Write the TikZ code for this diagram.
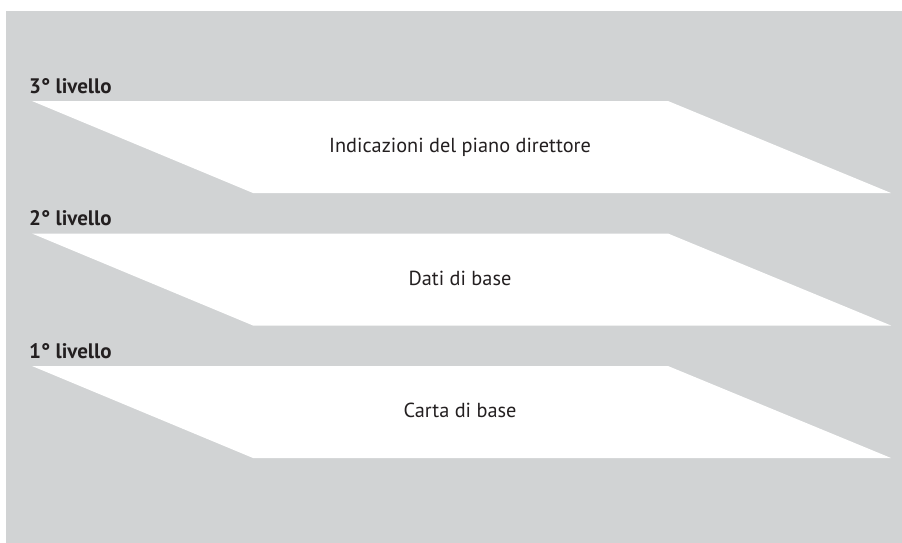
\documentclass[tikz,border=0pt]{standalone}
\usepackage{fontspec}
\setmainfont{PT Sans}
\usetikzlibrary{positioning}
\definecolor{sfondo}{RGB}{209,211,212}
\definecolor{testo}{RGB}{35,31,32}
\tikzset{
    every picture/.style = {
        x = 1pt,
        y = -1pt
    },
    piano/.style = {
        fill = white
    },
    titolo/.style = {
        inner sep = 0pt,
        anchor = base,
        text = testo,
        font = \fontsize{20.3}{24}\selectfont
    },
    livello/.style = {
        inner sep = 0pt,
        anchor = base west,
        text = testo,
        font = \fontsize{21}{25}\selectfont\bfseries
    }
}

\begin{document}
\begin{tikzpicture}
    \useasboundingbox (0,0) rectangle (902,543);
    \fill[sfondo] (6,11) rectangle (902,543);
    \foreach \n/\testo/\y in {3/Indicazioni del piano direttore/101,
                              2/Dati di base/233.5,
                              1/Carta di base/366} {
        \begin{scope}[yshift=-\y pt]
            \fill[piano] (32,0) -- (668,0) -- (891,92) -- (253,92) -- cycle;
            \path (460,51.5) node[titolo] (piano\n) {\testo};
            \path (29,-8) node[livello] (livello\n) {\n° livello};
        \end{scope}
    }
\end{tikzpicture}
\end{document}
